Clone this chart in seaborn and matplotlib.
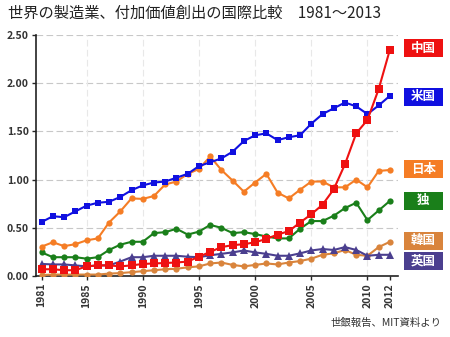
import matplotlib
matplotlib.use("Agg")
import matplotlib.pyplot as plt
from matplotlib.patches import Rectangle
import seaborn as sns
import pandas as pd

years = list(range(1981, 2013))
china = [0.07, 0.07, 0.06, 0.06, 0.10, 0.11, 0.11, 0.10, 0.11, 0.125, 0.13, 0.135, 0.14, 0.15, 0.20, 0.25,
         0.30, 0.32, 0.33, 0.35, 0.385, 0.43, 0.465, 0.555, 0.64, 0.74, 0.90, 1.16, 1.48, 1.62, 1.94, 2.35]
usa = [0.56, 0.62, 0.61, 0.67, 0.73, 0.76, 0.77, 0.82, 0.89, 0.94, 0.97, 0.98, 1.02, 1.06, 1.14, 1.18,
       1.22, 1.29, 1.40, 1.46, 1.48, 1.41, 1.44, 1.46, 1.58, 1.68, 1.74, 1.80, 1.76, 1.68, 1.77, 1.87]
japan = [0.305, 0.35, 0.31, 0.33, 0.37, 0.39, 0.555, 0.67, 0.805, 0.80, 0.83, 0.95, 0.98, 1.06, 1.11, 1.24,
         1.10, 0.99, 0.875, 0.97, 1.06, 0.865, 0.805, 0.895, 0.98, 0.98, 0.92, 0.92, 1.00, 0.92, 1.09, 1.10]
germany = [0.245, 0.195, 0.195, 0.195, 0.18, 0.195, 0.27, 0.325, 0.355, 0.355, 0.445, 0.455, 0.49, 0.43, 0.46, 0.53,
           0.50, 0.445, 0.455, 0.435, 0.41, 0.39, 0.39, 0.49, 0.57, 0.57, 0.625, 0.705, 0.76, 0.58, 0.68, 0.78]
korea = [0.01, 0.015, 0.015, 0.015, 0.015, 0.015, 0.025, 0.03, 0.04, 0.05, 0.06, 0.07, 0.075, 0.09, 0.10, 0.13,
         0.14, 0.115, 0.10, 0.115, 0.13, 0.12, 0.14, 0.155, 0.18, 0.22, 0.235, 0.27, 0.22, 0.21, 0.30, 0.355]
uk = [0.125, 0.12, 0.12, 0.11, 0.10, 0.11, 0.11, 0.15, 0.195, 0.195, 0.21, 0.21, 0.21, 0.20, 0.195, 0.215,
      0.23, 0.245, 0.265, 0.245, 0.23, 0.21, 0.21, 0.235, 0.265, 0.28, 0.27, 0.30, 0.27, 0.21, 0.22, 0.22]

names = ["中国", "米国", "日本", "独", "韓国", "英国"]
x_ticks = [1981, 1985, 1990, 1995, 2000, 2005, 2010, 2012]
y_ticks = [0.0, 0.5, 1.0, 1.5, 2.0, 2.5]
title = "世界の製造業、付加価値創出の国際比較　1981～2013"
source = "世銀報告、MIT資料より"

colors = {"中国": "#ee1111", "米国": "#1010e0", "日本": "#f57d25", "独": "#1a7f1a",
          "韓国": "#d9843c", "英国": "#4b3f8f"}
markers = {"中国": "s", "米国": "s", "日本": "o", "独": "o", "韓国": "o", "英国": "^"}
msizes = {"中国": 5.5, "米国": 5, "日本": 4.5, "独": 4.5, "韓国": 4.5, "英国": 5.5}
label_y = {"中国": 2.365, "米国": 1.86, "日本": 1.11, "独": 0.78, "韓国": 0.365, "英国": 0.151}
series = {"中国": china, "米国": usa, "日本": japan, "独": germany, "韓国": korea, "英国": uk}
order = ["韓国", "英国", "独", "日本", "米国", "中国"]

sns.set_style("white")
plt.rcParams['font.family'] = ['Noto Sans CJK JP', 'DejaVu Sans']

fig = plt.figure(figsize=(4.5, 3.37), dpi=100)
ax = fig.add_axes([0.08, 0.181, 0.804, 0.715])

for n in order:
    df = pd.DataFrame({"year": years, "value": series[n]})
    sns.lineplot(data=df, x="year", y="value", ax=ax, color=colors[n], marker=markers[n],
                 markersize=msizes[n], markeredgewidth=0, linewidth=1.5, zorder=3)

ax.set_xlim(1980.5, 2012.7)
ax.set_ylim(0, 2.5)
ax.set_xticks(x_ticks)
ax.set_xticklabels([str(t) for t in x_ticks], rotation=90, fontsize=7.5, color="#333333", fontweight="bold")
ax.set_yticks(y_ticks)
ax.set_yticklabels([f"{t:.2f}" for t in y_ticks], fontsize=7.5, color="#333333", fontweight="bold")
ax.set_xlabel("")
ax.set_ylabel("")
ax.grid(True, axis="y", linestyle=(0, (6, 3)), color="#c8c8c8", linewidth=0.8)
for t in [1985, 1990, 1995, 2000, 2005, 2010]:
    ax.axvline(t, color="#e8e8e8", linewidth=0.8, linestyle=(0, (6, 3)), zorder=1)
for s in ["top", "right"]:
    ax.spines[s].set_visible(False)
ax.spines["left"].set_color("#222222")
ax.spines["bottom"].set_color("#222222")
ax.spines["left"].set_linewidth(1.2)
ax.spines["bottom"].set_linewidth(1.2)
ax.tick_params(axis="y", length=3, width=1, pad=2, left=True)
ax.tick_params(axis="x", length=3, width=1, pad=2, bottom=True)

# label boxes at right, positioned through the axes' y scale
W, H = 39 / 450, 18 / 337
x0 = 404 / 450
for n in names:
    _, yd = ax.transData.transform((2000, label_y[n]))
    yc = fig.transFigure.inverted().transform((0, yd))[1]
    fig.patches.append(Rectangle((x0, yc - H / 2), W, H, transform=fig.transFigure,
                                 facecolor=colors[n], edgecolor="none"))
    fig.text(x0 + W / 2, yc, n, ha="center", va="center", fontsize=9, color="white", fontweight="bold")

fig.text(0.018, 0.962, title, fontsize=11, color="#222222", ha="left", va="center")
fig.text(0.982, 0.042, source, fontsize=7.5, color="#333333", ha="right", va="center")

fig.savefig("out.png", dpi=100)
